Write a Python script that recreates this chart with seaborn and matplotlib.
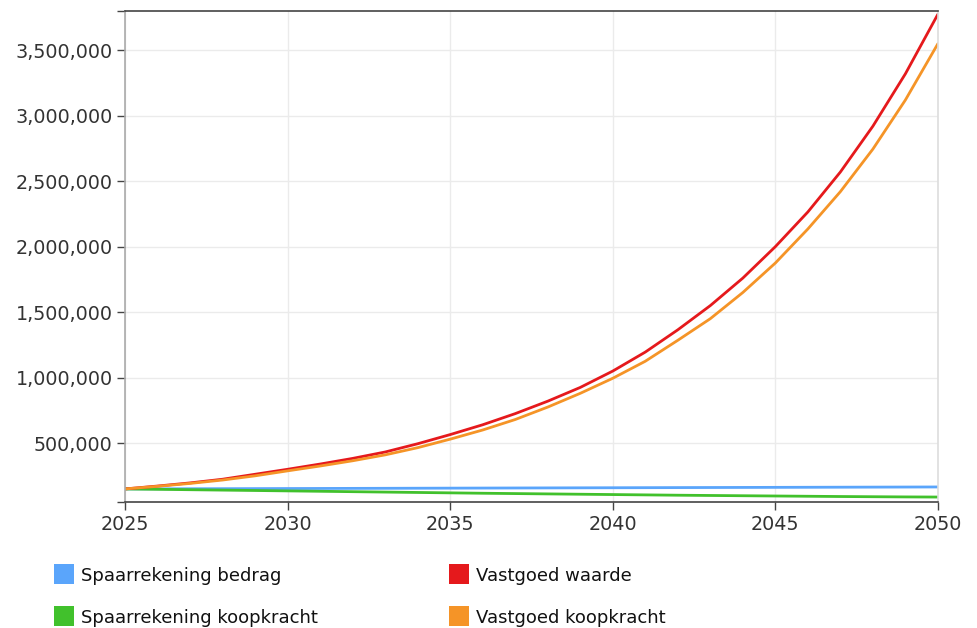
import numpy as np
import pandas as pd
import seaborn as sns
import matplotlib.pyplot as plt
from matplotlib.lines import Line2D
from matplotlib.ticker import FuncFormatter

years = list(range(2025, 2051))

spaar_bedrag = [150000, 150600, 151200, 151800, 152400, 153000, 153600, 154200, 154800,
                155400, 156000, 156600, 157200, 157800, 158400, 159000, 159600, 160200,
                160800, 161400, 162000, 162600, 163200, 163800, 164400, 165000]
spaar_koopkracht = [150000, 147000, 144000, 141000, 138000, 135000, 132000, 129000, 126000,
                    123000, 120000, 117000, 114500, 112000, 109500, 107000, 104500, 102000,
                    100000, 98000, 96000, 94000, 92000, 90500, 89000, 88000]
vastgoed_waarde = [150000, 172000, 196000, 224000, 262000, 300000, 340000, 383000, 432000,
                   495000, 565000, 640000, 725000, 820000, 925000, 1050000, 1195000, 1365000,
                   1550000, 1760000, 2000000, 2265000, 2570000, 2920000, 3320000, 3775000]
vastgoed_koopkracht = [150000, 170000, 192000, 218000, 250000, 288000, 325000, 365000, 410000,
                       465000, 530000, 600000, 680000, 775000, 880000, 995000, 1125000, 1285000,
                       1450000, 1650000, 1875000, 2135000, 2420000, 2745000, 3120000, 3550000]

series = {
    "Spaarrekening bedrag": spaar_bedrag,
    "Spaarrekening koopkracht": spaar_koopkracht,
    "Vastgoed waarde": vastgoed_waarde,
    "Vastgoed koopkracht": vastgoed_koopkracht,
}
colors = {
    "Spaarrekening bedrag": "#5aa5fb",
    "Spaarrekening koopkracht": "#41c12c",
    "Vastgoed waarde": "#e5191c",
    "Vastgoed koopkracht": "#f59427",
}

df = pd.DataFrame([
    {"jaar": y, "waarde": v, "reeks": name}
    for name, vals in series.items() for y, v in zip(years, vals)
])

sns.set_theme(style="white")
plt.rcParams["font.family"] = ["DejaVu Sans"]

fig = plt.figure(figsize=(9.77, 6.28), dpi=100)
ax = fig.add_axes([0.128, 0.2006, 0.832, 0.782])

sns.lineplot(data=df, x="jaar", y="waarde", hue="reeks", palette=colors,
             linewidth=2.0, ax=ax, legend=False)

ax.set_xlim(2025, 2050)
ax.set_ylim(50000, 3800000)
ax.set_xticks([2025, 2030, 2035, 2040, 2045, 2050])
yt = [50000, 500000, 1000000, 1500000, 2000000, 2500000, 3000000, 3500000, 3800000]
ax.set_yticks(yt)
ax.yaxis.set_major_formatter(FuncFormatter(
    lambda v, p: "" if v in (50000, 3800000) else f"{int(v):,}"))
ax.set_xlabel("")
ax.set_ylabel("")

ax.grid(True, color="#ebebeb", linewidth=1)
for yl in ax.get_ygridlines()[:1] + ax.get_ygridlines()[-1:]:
    yl.set_visible(False)
ax.set_axisbelow(True)

ax.spines["top"].set_color("#444444")
ax.spines["bottom"].set_color("#444444")
ax.spines["left"].set_color("#aaaaaa")
ax.spines["right"].set_color("#dddddd")
for s in ax.spines.values():
    s.set_linewidth(1.2)

ax.tick_params(axis="both", which="major", direction="out", length=6, width=1,
               color="#444444", labelcolor="#333333", labelsize=13.8, pad=3,
               left=True, bottom=True)

handles = [Line2D([], [], linestyle="none", marker="s", markersize=15,
                  markerfacecolor=colors[n], markeredgewidth=0) for n in series]
leg = fig.legend(handles, list(series.keys()), loc="upper left", ncol=2,
                 bbox_to_anchor=(0.049, 0.109), frameon=False, fontsize=13,
                 handlelength=1.0, handletextpad=0.45, columnspacing=7.3,
                 labelspacing=1.32, borderaxespad=0)
for t in leg.get_texts():
    t.set_color("#111111")

fig.savefig("out.png", dpi=100)
